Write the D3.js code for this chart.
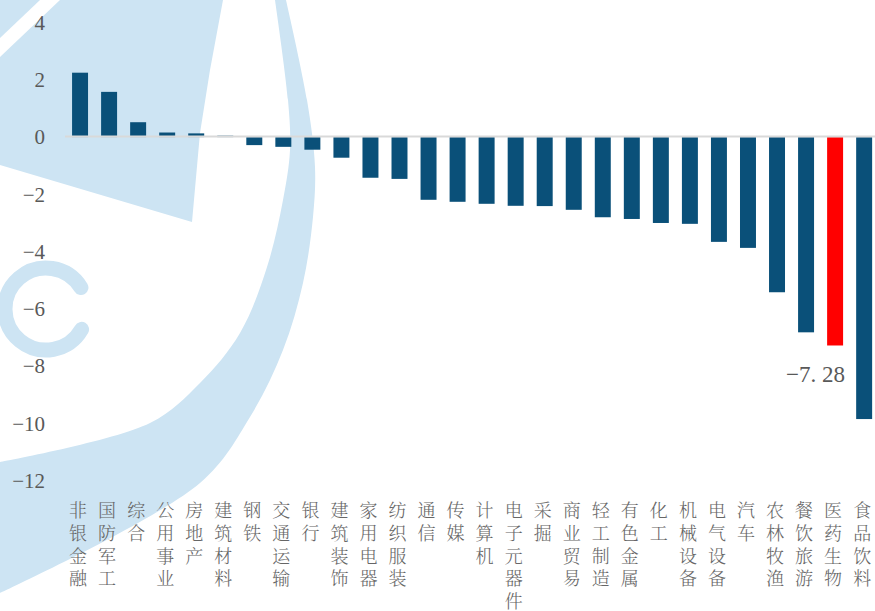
<!DOCTYPE html>
<html>
<head>
<meta charset="utf-8">
<title>行业涨跌幅</title>
<style>
body {
	margin: 0;
	background: #ffffff;
}

#chart {
	display: block;
}

.tick-label {
	font-family: "Liberation Serif", "DejaVu Serif", serif;
	font-size: 21px;
	fill: #595959;
}

.cat-label {
	font-family: "Noto Serif CJK SC", "Noto Sans CJK SC", sans-serif;
	font-weight: 300;
	font-size: 18px;
	fill: #666666;
}
</style>
<script src="https://cdn.jsdelivr.net/npm/d3@7"></script>
</head>
<body>
<svg id="chart" width="875" height="611"></svg>
<script>
// industry names and their change (%)
var categories = ['非银金融', '国防军工', '综合', '公用事业', '房地产', '建筑材料', '钢铁', '交通运输',
	'银行', '建筑装饰', '家用电器', '纺织服装', '通信', '传媒', '计算机', '电子元器件', '采掘',
	'商业贸易', '轻工制造', '有色金属', '化工', '机械设备', '电气设备', '汽车', '农林牧渔',
	'餐饮旅游', '医药生物', '食品饮料'];
var values = [2.25, 1.58, 0.52, 0.16, 0.13, 0.05, -0.28, -0.34,
	-0.44, -0.72, -1.42, -1.46, -2.19, -2.26, -2.33, -2.40, -2.41,
	-2.54, -2.80, -2.86, -3.00, -3.03, -3.66, -3.87, -5.42,
	-6.82, -7.28, -9.85];
var yTicks = [4, 2, 0, -2, -4, -6, -8, -10, -12];
var highlight = '医药生物';

var svg = d3.select('#chart');

// background watermark (decoration only)
var wmColor = '#cde4f3';
var wm = svg.append('g').attr('fill', wmColor);
var smooth = d3.line().curve(d3.curveCatmullRom);
var inner = [[275, 0], [288, 100], [290, 150], [283, 200], [267, 267], [240, 333], [200, 383], [150, 423], [0, 462]];
var outer = [[0, 593], [200, 483], [250, 417], [283, 350], [303, 283], [313, 217], [315, 167], [307, 100], [286, 0]];
wm.append('path').attr('d', smooth(inner) + 'L' + smooth(outer).slice(1) + 'Z');
var corner = [[60, 0], [223, 0], [210, 70], [200, 133], [192, 222], [0, 165], [0, 57]];
wm.append('path').attr('d', 'M' + corner.join('L') + 'Z');
wm.append('path').attr('d', 'M0,0L40,0L0,38Z');
var c = d3.path();
c.arc(46, 309, 41, -0.55, 0.52, true);
wm.append('path').attr('d', c.toString())
	.attr('fill', 'none')
	.attr('stroke', wmColor)
	.attr('stroke-width', 15)
	.attr('stroke-linecap', 'round');

var x = d3.scaleBand()
	.domain(categories)
	.range([59, 885.2])
	.padding(0.45);

var y = d3.scaleLinear()
	.domain([-12, 4])
	.range([480.6, 22.6]);

// y tick labels
svg.append('g').selectAll('text')
	.data(yTicks)
	.enter().append('text')
	.attr('class', 'tick-label')
	.attr('font-family', 'Liberation Serif')
	.attr('x', 45)
	.attr('y', function(d) { return y(d); })
	.attr('dy', '0.35em')
	.attr('text-anchor', 'end')
	.text(function(d) { return d < 0 ? '\u2212' + Math.abs(d) : d; });

// bars
svg.append('g').selectAll('rect')
	.data(values)
	.enter().append('rect')
	.attr('x', function(d, i) { return x(categories[i]); })
	.attr('width', x.bandwidth())
	.attr('y', function(d) { return y(Math.max(0, d)); })
	.attr('height', function(d) { return Math.abs(y(d) - y(0)); })
	.attr('fill', function(d, i) { return categories[i] == highlight ? '#ff0000' : '#0a5079'; });

// zero line
svg.append('line')
	.attr('x1', 65)
	.attr('x2', 875)
	.attr('y1', y(0) - 0.5)
	.attr('y2', y(0) - 0.5)
	.attr('stroke', '#d9d9d9')
	.attr('stroke-width', 2);

// value label of the highlighted bar
var hi = categories.indexOf(highlight);
svg.append('text')
	.attr('class', 'tick-label')
	.attr('font-family', 'Liberation Serif')
	.style('font-size', '23px')
	.attr('x', x(highlight) + x.bandwidth() + 2)
	.attr('y', y(values[hi]) + 28)
	.attr('dy', '0.35em')
	.attr('text-anchor', 'end')
	.text('\u22127. 28');

// vertical category labels, one character per text
var cols = svg.append('g').selectAll('g')
	.data(categories)
	.enter().append('g')
	.attr('transform', function(d) { return 'translate(' + (x(d) + x.bandwidth() / 2 - 2) + ',0)'; });

cols.selectAll('text')
	.data(function(d) { return d.split(''); })
	.enter().append('text')
	.attr('class', 'cat-label')
	.attr('text-anchor', 'middle')
	.attr('y', function(d, i) { return 511 + i * 22.7; })
	.attr('dy', '0.35em')
	.text(function(d) { return d; });
</script>
</body>
</html>
